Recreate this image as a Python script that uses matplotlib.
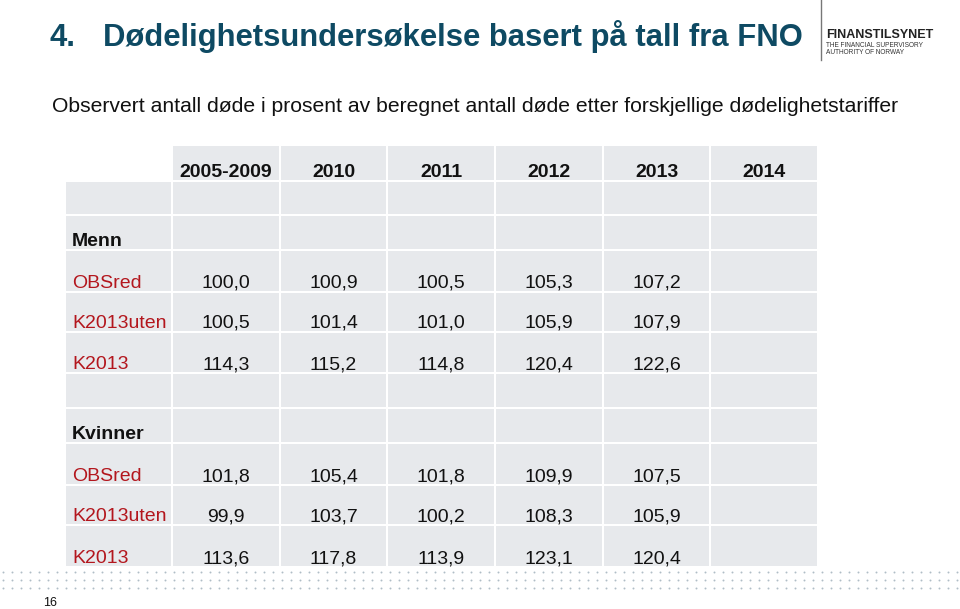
import numpy as np
import matplotlib.pyplot as plt
from matplotlib.patches import Rectangle

plt.rcParams['font.family'] = ['Liberation Sans', 'DejaVu Sans']

TITLE_NUM = "4."
TITLE = "Dødelighetsundersøkelse basert på tall fra FNO"
SUBTITLE = ("Observert antall døde i prosent av beregnet antall døde "
            "etter forskjellige dødelighetstariffer")
PAGE = "16"

years = ["2005-2009", "2010", "2011", "2012", "2013", "2014"]
groups = ["Menn", "Kvinner"]
series = ["OBSred", "K2013uten", "K2013"]
menn = [
    [100.0, 100.9, 100.5, 105.3, 107.2],
    [100.5, 101.4, 101.0, 105.9, 107.9],
    [114.3, 115.2, 114.8, 120.4, 122.6],
]
kvinner = [
    [101.8, 105.4, 101.8, 109.9, 107.5],
    [99.9, 103.7, 100.2, 108.3, 105.9],
    [113.6, 117.8, 113.9, 123.1, 120.4],
]

# layout (pixels)
W, H = 960, 609
col_edges = [65, 172, 280, 387, 495, 603, 710, 818]
row_edges = [145, 181, 215, 250, 292, 332, 373, 408, 443, 485, 525, 567]
CELL = "#e7e9ec"
RED = "#b3161d"
TEAL = "#0e4a63"
FS = 14


def fmt(v):
    return ("%.1f" % v).replace(".", ",")


fig = plt.figure(figsize=(W / 100, H / 100), dpi=100)
ax = fig.add_axes([0, 0, 1, 1])
ax.set_xlim(0, W)
ax.set_ylim(H, 0)
ax.axis("off")

# title
ax.text(50, 46, TITLE_NUM, fontsize=22.3, fontweight="bold", color=TEAL, va="baseline")
ax.text(103, 46, TITLE, fontsize=22.3, fontweight="bold", color=TEAL, va="baseline")
ax.text(52, 112, SUBTITLE, fontsize=15.2, color="#111111", va="baseline")

# logo
ax.plot([821, 821], [0, 60], color="#777777", lw=1)
ax.text(826, 35, "FINANSTILSYNET", fontsize=9, fontweight="bold", color="#222222", va="center")
ax.text(826, 45.5, "THE FINANCIAL SUPERVISORY", fontsize=4.7, color="#333333", va="center")
ax.text(826, 53, "AUTHORITY OF NORWAY", fontsize=4.7, color="#333333", va="center")

# table cells
for r in range(len(row_edges) - 1):
    for c in range(len(col_edges) - 1):
        if r == 0 and c == 0:
            continue
        x0, x1 = col_edges[c], col_edges[c + 1]
        y0, y1 = row_edges[r], row_edges[r + 1]
        ax.add_patch(Rectangle((x0 + 1, y0 + 1), x1 - x0 - 2, y1 - y0 - 2,
                               facecolor=CELL, edgecolor="none"))

centers = [(col_edges[i] + col_edges[i + 1]) / 2 for i in range(len(col_edges) - 1)]


def base(r):
    return row_edges[r + 1] - 4


# header
for i, y in enumerate(years):
    ax.text(centers[i + 1], base(0), y, fontsize=FS, fontweight="bold",
            ha="center", va="baseline", color="#111111")

# body
blocks = [(2, groups[0], menn), (7, groups[1], kvinner)]
for r0, name, vals in blocks:
    ax.text(72, base(r0), name, fontsize=FS, fontweight="bold",
            va="baseline", color="#111111")
    for k, s in enumerate(series):
        r = r0 + 1 + k
        ax.text(72, base(r), s, fontsize=FS, color=RED, va="baseline")
        for j, v in enumerate(vals[k]):
            ax.text(centers[j + 1], base(r), fmt(v), fontsize=FS,
                    ha="center", va="baseline", color="#111111")

# dotted band
xs = np.arange(3, W, 9)
for yy in (572, 580, 588):
    ax.scatter(xs, np.full_like(xs, yy, dtype=float), s=2.0, color="#b0bdc6",
               linewidths=0)

ax.text(43, 603, PAGE, fontsize=9, color="#111111", va="center")

fig.savefig("out.png", dpi=100)
